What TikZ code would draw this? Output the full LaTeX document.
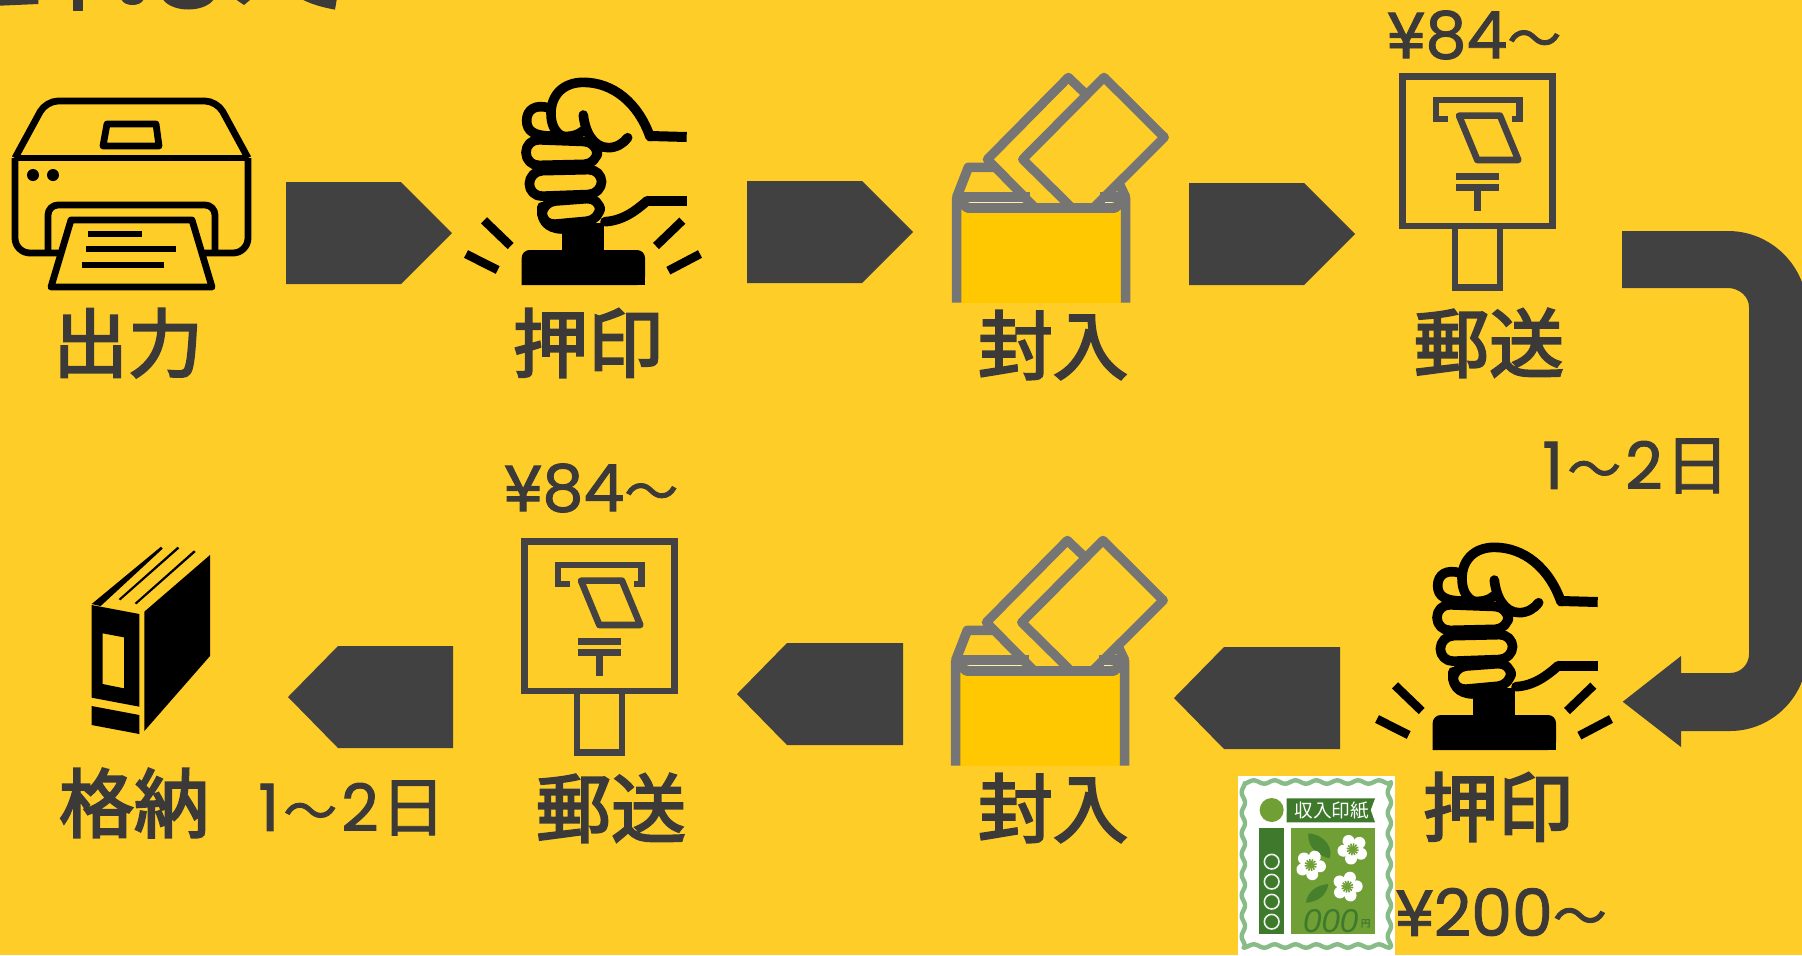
\documentclass[tikz,border=0pt]{standalone}
\usepackage{fontspec}
\newfontfamily\cjkb[FakeBold=3]{Noto Sans CJK JP}
\newfontfamily\cjkr{Noto Sans CJK JP}
\newfontfamily\cjkm[FakeBold=1.5]{Noto Sans CJK JP}
\newfontfamily\numf[FakeBold=1.5]{Poppins}
\newfontfamily\itf{Liberation Sans}
\definecolor{bgy}{RGB}{255,205,40}
\definecolor{envy}{RGB}{255,200,0}
\definecolor{dk}{RGB}{65,65,65}
\definecolor{txt}{RGB}{60,58,57}
\definecolor{post}{RGB}{68,66,66}
\definecolor{envg}{RGB}{117,117,117}
\definecolor{gframe}{RGB}{135,188,135}
\definecolor{gdark}{RGB}{63,122,44}
\definecolor{gmid}{RGB}{111,159,53}
\newcommand\wv{{\cjkm\fontsize{27}{27}\selectfont 〜}}
\tikzset{
  steplabel/.style={text=txt,inner sep=0pt,font=\cjkb\fontsize{37.5}{37.5}\selectfont},
  notelabel/.style={text=txt,inner sep=0pt,font=\numf\fontsize{32.5}{32.5}\selectfont},
  blockarrow/.style={fill=dk,draw=none},
  printline/.style={draw=black,line width=3.4pt,line join=round},
  postline/.style={draw=post,line width=3.4pt},
  envline/.style={draw=envg,line width=4.8pt,line join=round},
  fistline/.style={draw=black,line width=4.8pt,line cap=round,line join=round},
}
\newcommand\stampicon[2]{%
\begin{scope}[shift={(#1,#2)},scale=1/3]
  \fill (335,490) rectangle (463,580);
  \fill[rounded corners=4pt] (215,675) -- (215,570) -- (585,570) -- (585,675) [sharp corners] -- cycle;
  \fill (215,640) rectangle (585,675);
  \draw[fistline] (228,238) [rounded corners=6.5pt] -- (442,246) -- (442,312) -- (228,317) -- cycle;
  \draw[fistline] (238,333) [rounded corners=6.5pt] -- (455,328) -- (455,402) -- (238,410) -- cycle;
  \draw[fistline] (276,426) [rounded corners=6.5pt] -- (450,413) -- (450,480) -- (276,496) -- cycle;
  \draw[fistline] (276,440) .. controls (272,480) and (290,505) .. (335,507);
  \draw[fistline] (300,145) .. controls (255,130) and (230,150) .. (230,182) .. controls (230,215) and (255,228) .. (305,228);
  \draw[fistline] (335,228) .. controls (315,215) and (303,195) .. (303,160) .. controls (303,105) and (340,67) .. (400,67) .. controls (490,67) and (565,130) .. (600,230);
  \draw[fistline] (335,228) .. controls (360,232) and (385,225) .. (400,212);
  \draw[fistline] (400,165) .. controls (405,215) and (430,263) .. (475,263) .. controls (500,263) and (520,250) .. (533,233);
  \draw[draw=black,line width=5pt,line join=round] (710,231) -- (600,228);
  \draw[draw=black,line width=5pt,line join=round] (710,422) -- (592,422);
  \draw[fistline] (592,422) .. controls (560,450) and (520,482) .. (465,485);
  \draw[draw=black,line width=4.3pt] (102,481) -- (182,558);
  \draw[draw=black,line width=4.3pt] (48,582) -- (143,630);
  \draw[draw=black,line width=4.3pt] (697,482) -- (618,558);
  \draw[draw=black,line width=4.3pt] (750,582) -- (655,632);
\end{scope}}
\newcommand\envicon[2]{%
\begin{scope}[shift={(#1,#2)},scale=1/3]
  \draw[envline] (80,412) -- (115,322) -- (190,322);
  \draw[envline] (80,411) -- (300,411);
  \draw[envline] (587,412) -- (568,372);
  \draw[envline] (510,411) -- (587,411);
  \fill[envy] (80,444) -- (587,444) -- (587,728) -- (80,728) -- cycle;
  \draw[envline] (80,728) -- (80,415) -- (112,444) -- (555,444) -- (587,415) -- (587,728);
  \draw[draw=envg,line width=4.6pt,line join=round] (465,100) -- (415,52) -- (172,298) -- (312,440);
  \draw[draw=envg,line width=4.6pt,line join=round] (490,444) -- (703,232) -- (522,52) -- (278,298) -- (422,440);
  \draw[draw=white!70!envy,line width=0.6pt] (120,427) -- (275,427);
  \draw[draw=white!70!envy,line width=0.6pt] (525,427) -- (545,427);
\end{scope}}
\newcommand\posticon[2]{%
\begin{scope}[shift={(#1,#2)},scale=1/3]
  \draw[postline] (128,230) rectangle (577,678);
  \draw[postline] (285,678) -- (285,862) -- (420,862) -- (420,678);
  \draw[draw=post,line width=3.3pt] (265,357) -- (228,357) -- (228,300) -- (478,300) -- (478,357) -- (455,357);
  \draw[draw=post,line width=3.3pt,line join=round] (297,347) -- (420,347) -- (475,480) -- (352,480) -- cycle;
  \draw[draw=post,line width=3.4pt] (288,530) -- (417,530);
  \draw[draw=post,line width=3.4pt] (288,562) -- (417,562);
  \draw[draw=post,line width=3.2pt] (352,562) -- (352,632);
\end{scope}}
\newcommand\flowericon[3]{%
\begin{scope}[shift={(#1,#2)},rotate=#3]
  \foreach \a in {90,162,234,306,18} {\fill[white] (\a:28) circle (18);}
  \fill[white] (0,0) circle (24);
  \foreach \a in {0,30,...,330} {\draw[gmid,line width=0.8pt] (0,0) -- (\a:18);}
  \fill[gmid] (0,0) circle (6);
\end{scope}}
\begin{document}
\begin{tikzpicture}[x=0.5pt,y=-0.5pt]
\useasboundingbox (0,0) rectangle (1802,955);
\clip (0,0) rectangle (1802,955);
\fill[bgy] (0,0) rectangle (1802,955);
% cut-off heading at the top edge
\begin{scope}[scale=1/3]
  \fill[txt] (0,0) -- (115,0) -- (115,12) -- (0,17) -- cycle;
  \fill[txt] (218,0) rectangle (250,32);
  \fill[txt] (365,0) .. controls (375,20) and (420,20) .. (430,0) -- cycle;
  \fill[txt] (490,0) .. controls (520,38) and (610,38) .. (640,0) -- cycle;
  \fill[txt] (710,0) -- (732,15) -- (750,0) -- cycle;
  \fill[txt] (910,0) .. controls (940,15) and (970,22) .. (1005,29) -- (1010,0) -- cycle;
\end{scope}
% printer
\draw[printline,rounded corners=6pt] (15,158) -- (46,101) -- (217,101) -- (248,158);
\draw[printline,rounded corners=7.5pt] (15,158) -- (15,253) -- (248,253) -- (248,158);
\draw[printline] (15,158) -- (248,158);
\draw[printline] (107,124) -- (156,124) -- (159,146) -- (103,146) -- cycle;
\fill (33,175) circle (6);
\fill (53,175) circle (6);
\draw[printline,rounded corners=5pt] (48,253) -- (48,205) -- (215,205) -- (215,253);
\filldraw[printline,fill=bgy] (71,220) -- (192,220) -- (212,287) -- (51,287) -- cycle;
\draw[line width=3pt] (88,234) -- (142,234);
\draw[line width=3pt] (86,249) -- (176,249);
\draw[line width=3pt] (82,265) -- (164,265);
% top row icons
\stampicon{450}{60}
\envicon{930}{60}
\posticon{1360}{0}
% bottom row icons
\stampicon{1361}{525}
\envicon{929}{523}
\posticon{482}{465}
% book
\begin{scope}[shift={(40,520)},scale=1/3]
  \fill[even odd rule] (155,255) -- (298,282) -- (298,560) -- (155,533) -- cycle
     (188,340) -- (252,352) -- (252,505) -- (188,492) -- cycle;
  \fill (155,558) -- (298,585) -- (298,642) -- (155,615) -- cycle;
  \fill (313,275) -- (510,105) -- (510,408) -- (313,633) -- cycle;
  \fill (155,252) -- (363,80) -- (368,86) -- (182,258) -- cycle;
  \fill (236,237) -- (413,80) -- (418,85) -- (241,241) -- cycle;
  \fill (284,249) -- (462,91) -- (467,96) -- (289,253) -- cycle;
\end{scope}
% revenue stamp
\fill[white] (1238,776) rectangle (1395,955);
\begin{scope}[shift={(1220,760)},scale=1/3]
  \draw[gframe,line width=2.2pt,line join=round]
    plot[domain=70:508,samples=110] (\x,{66+5*cos((\x-70)*5.75)})
    -- plot[domain=66:560,samples=110] ({508+5*cos((\x-66)*5.83)},\x)
    -- plot[domain=508:70,samples=110] (\x,{558+5*cos((\x-70)*5.75)})
    -- plot[domain=560:66,samples=110] ({70+5*cos((\x-66)*5.83)},\x);
  \fill[gdark] (117,205) rectangle (193,522);
  \fill[gdark] (200,115) -- (465,115) -- (452,150) -- (465,187) -- (200,187) -- cycle;
  \fill[white] (155,150) circle (44);
  \fill[gmid] (155,150) circle (36);
  \fill[gmid] (213,205) rectangle (465,522);
  \foreach \yy in {305,365,425,485} {\draw[white!90!gdark,line width=0.8pt] (155,\yy) circle (22);}
  \fill[gdark!85!gmid] (265,220) .. controls (320,225) and (340,270) .. (328,295) .. controls (290,285) and (262,260) .. (265,220) -- cycle;
  \fill[gdark!85!gmid] (325,372) .. controls (290,375) and (262,395) .. (258,428) .. controls (295,425) and (320,405) .. (325,372) -- cycle;
  \flowericon{272}{315}{10}
  \flowericon{398}{268}{-10}
  \flowericon{382}{380}{20}
  \node[inner sep=0pt,text=white] (banner) at (335,153) {\cjkr\fontsize{9.3}{9.3}\selectfont 収入印紙};
  \node[inner sep=0pt,text=gdark] (amount) at (332,482) {\itf\itshape\fontsize{16.5}{16.5}\selectfont 000};
  \node[inner sep=0pt,text=gdark] (yen) at (437,490) {\cjkm\fontsize{4.8}{4.8}\selectfont 円};
\end{scope}
% block arrows
\fill[blockarrow] (286,182) -- (401,182) -- (452,233) -- (401,284) -- (286,284) -- cycle;
\fill[blockarrow] (747,181) -- (862,181) -- (913,232) -- (862,283) -- (747,283) -- cycle;
\fill[blockarrow] (1189,183) -- (1304,183) -- (1355,234) -- (1304,285) -- (1189,285) -- cycle;
\fill[blockarrow] (1340,647) -- (1224,647) -- (1174,698) -- (1224,749) -- (1340,749) -- cycle;
\fill[blockarrow] (903,643) -- (787,643) -- (737,694) -- (787,745) -- (903,745) -- cycle;
\fill[blockarrow] (453,646) -- (338,646) -- (288,697) -- (338,748) -- (453,748) -- cycle;
\fill[blockarrow] (1622,231) -- (1728,231) .. controls (1771.5,231) and (1807,266.5) .. (1807,310)
  -- (1807,654) .. controls (1807,696.5) and (1772,731) .. (1730,731)
  -- (1681,731) -- (1681,747) -- (1622.7,701.7) -- (1681,656) -- (1681,673) -- (1730,673)
  .. controls (1740.5,673) and (1749,664.5) .. (1749,654)
  -- (1749,307) .. controls (1749,296.5) and (1739,288) .. (1728,288) -- (1622,288) -- cycle;
% labels
\node[steplabel] (t1) at (128,343) {出力};
\node[steplabel] (t2) at (588,343) {押印};
\node[steplabel] (t3) at (1053,345) {封入};
\node[steplabel] (t4) at (1489,343) {郵送};
\node[steplabel] (t5) at (1498,807) {押印};
\node[steplabel] (t6) at (1053,808) {封入};
\node[steplabel] (t7) at (611,808) {郵送};
\node[steplabel] (t8) at (134,803) {格納};
\node[notelabel] (p1) at (1474,35) {¥84\wv};
\node[notelabel] (p2) at (591,488) {¥84\wv};
\node[notelabel] (p3) at (1501,912) {¥200\wv};
\node[notelabel] (d1) at (1636,466) {1\hspace{2pt}\wv\hspace{2pt}2\hspace{1pt}{\cjkm 日}};
\node[notelabel] (d2) at (352,808) {1\hspace{2pt}\wv\hspace{2pt}2\hspace{1pt}{\cjkm 日}};
\end{tikzpicture}
\end{document}
